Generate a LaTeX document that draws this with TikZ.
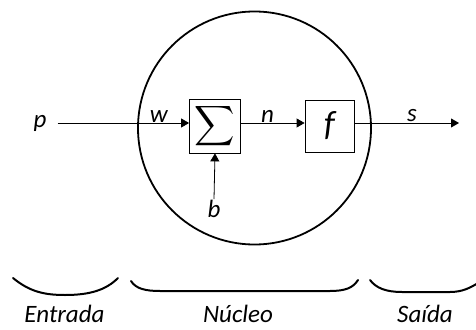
\documentclass[tikz,border=0pt]{standalone}
\usepackage{fontspec}
\usepackage{graphicx}
\setmainfont{Carlito}
\usetikzlibrary{arrows.meta}
\begin{document}
\begin{tikzpicture}[x=1pt,y=-1pt,
  lbl/.style={font=\fontsize{25}{29}\selectfont\itshape, inner sep=1pt},
  blk/.style={draw, line width=0.8pt, inner sep=0pt},
  conn/.style={line width=0.8pt, -{Triangle[length=8pt,width=9pt]}},
  brc/.style={line width=2pt, line cap=round}]
\useasboundingbox (0,0) rectangle (476,329);
% nucleus circle
\node[draw, circle, line width=1.8pt, minimum size=233pt, inner sep=0pt] (core) at (254.5,128) {};
% blocks
\node[blk, minimum width=51pt, minimum height=54pt] (sum) at (215,126)
  {\scalebox{2.8}{$\displaystyle\sum$}};
\node[blk, minimum width=49pt, minimum height=52pt] (f) at (329.5,126)
  {\fontsize{35}{39}\selectfont\itshape f};
% input / bias
\node[lbl, inner xsep=11pt] (p) at (40,123) {p};
\node[lbl] (b) at (214,209) {b};
\coordinate (out) at (459,123);
% connectors
\draw[conn] (p.east) -- ([yshift=3pt]sum.west) node[lbl, pos=0.77, above, yshift=-1pt] {w};
\draw[conn] ([yshift=3pt]sum.east) -- ([yshift=3pt]f.west) node[lbl, pos=0.42, above, yshift=-1pt] {n};
\draw[conn] ([yshift=3pt]f.east) -- (out) node[lbl, pos=0.55, above, yshift=0pt] {s};
\draw[conn] (b.north) -- (sum.south);
% braces
\draw[brc] (13,278) .. controls (30,292) and (45,295) .. (65,295) .. controls (90,295) and (106,290) .. (118,278);
\draw[brc] (131,281) .. controls (136,289) and (146,291) .. (160,291) -- (330,291) .. controls (345,291) and (353,288) .. (358,280);
\draw[brc] (370,280) .. controls (376,288) and (386,292) .. (402,292) -- (450,292) .. controls (462,292) and (470,288) .. (478,283);
% captions
\node[lbl, anchor=base] (ent) at (64.5,322) {Entrada};
\node[lbl, anchor=base] (nuc) at (238,322) {Núcleo};
\node[lbl, anchor=base] (sai) at (425,322) {Saída};
\end{tikzpicture}
\end{document}
